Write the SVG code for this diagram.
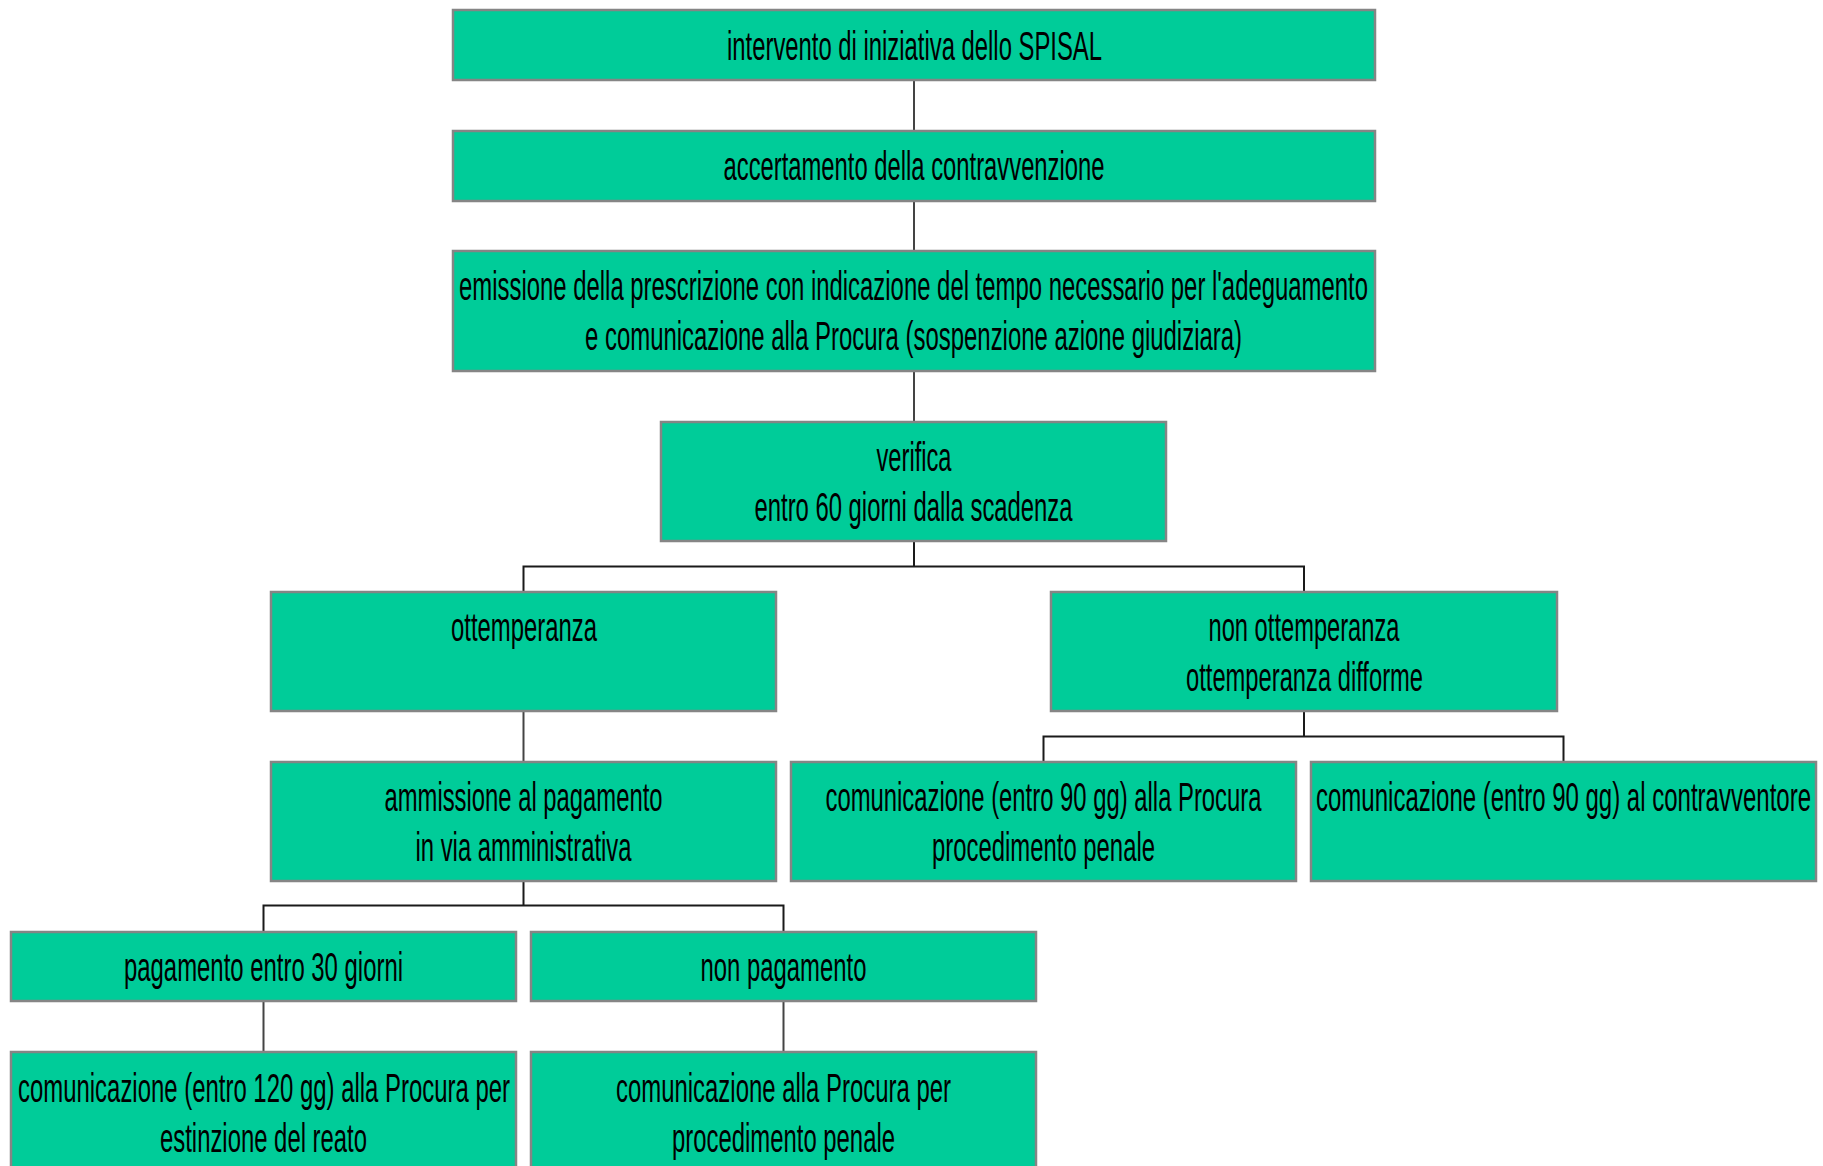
<svg xmlns="http://www.w3.org/2000/svg" width="1823" height="1166" viewBox="0 0 1823 1166">
<style>
.box{fill:#00CC99;stroke:#858585;stroke-width:2.5}
.t{font-family:"Liberation Sans",Arial,sans-serif;font-size:23.2px;fill:#000}
.c{fill:none;stroke:#1a1a1a;stroke-width:2}
.v{fill:none;stroke:#444;stroke-width:2}
</style>
<rect width="1823" height="1166" fill="#fff"/>
<g id="connectors">
<path class="v" d="M914 80V131M914 201V251M914 371V422"/>
<path class="c" d="M914 541V566.5M523.5 592V566.5H1304V592"/>
<path class="v" d="M523.5 711V762"/>
<path class="c" d="M1304 711V736.5M1043.5 762V736.5H1563.5V762"/>
<path class="c" d="M523.5 881V905.5M263.5 932V905.5H783.5V932"/>
<path class="v" d="M263.5 1001V1052M783.5 1001V1052"/>
</g>
<g id="n1"><rect class="box" x="453" y="10" width="922" height="70"/>
<text class="t" transform="translate(914.5 60) scale(1 1.724)" x="-187.5" textLength="375" lengthAdjust="spacingAndGlyphs">intervento di iniziativa dello SPISAL</text></g>
<g id="n2"><rect class="box" x="453" y="131" width="922" height="70"/>
<text class="t" transform="translate(914 180) scale(1 1.724)" x="-190.5" textLength="381" lengthAdjust="spacingAndGlyphs">accertamento della contravvenzione</text></g>
<g id="n3"><rect class="box" x="453" y="251" width="922" height="120"/>
<text class="t" transform="translate(913.5 300) scale(1 1.724)" x="-454.5" textLength="909" lengthAdjust="spacingAndGlyphs">emissione della prescrizione con indicazione del tempo necessario per l'adeguamento</text>
<text class="t" transform="translate(913.5 350) scale(1 1.724)" x="-328.5" textLength="657" lengthAdjust="spacingAndGlyphs">e comunicazione alla Procura (sospenzione azione giudiziara)</text></g>
<g id="n4"><rect class="box" x="661" y="422" width="505" height="119"/>
<text class="t" transform="translate(914 471) scale(1 1.724)" x="-37.5" textLength="75" lengthAdjust="spacingAndGlyphs">verifica</text>
<text class="t" transform="translate(913.5 521) scale(1 1.724)" x="-159" textLength="318" lengthAdjust="spacingAndGlyphs">entro 60 giorni dalla scadenza</text></g>
<g id="n5"><rect class="box" x="271" y="592" width="505" height="119"/>
<text class="t" transform="translate(524 641) scale(1 1.724)" x="-73" textLength="146" lengthAdjust="spacingAndGlyphs">ottemperanza</text></g>
<g id="n6"><rect class="box" x="1051" y="592" width="506" height="119"/>
<text class="t" transform="translate(1304 641) scale(1 1.724)" x="-95.5" textLength="191" lengthAdjust="spacingAndGlyphs">non ottemperanza</text>
<text class="t" transform="translate(1304.5 691) scale(1 1.724)" x="-118.5" textLength="237" lengthAdjust="spacingAndGlyphs">ottemperanza difforme</text></g>
<g id="n7"><rect class="box" x="271" y="762" width="505" height="119"/>
<text class="t" transform="translate(523.5 811) scale(1 1.724)" x="-139" textLength="278" lengthAdjust="spacingAndGlyphs">ammissione al pagamento</text>
<text class="t" transform="translate(523.5 861) scale(1 1.724)" x="-108" textLength="216" lengthAdjust="spacingAndGlyphs">in via amministrativa</text></g>
<g id="n8"><rect class="box" x="791" y="762" width="505" height="119"/>
<text class="t" transform="translate(1043.5 811) scale(1 1.724)" x="-218" textLength="436" lengthAdjust="spacingAndGlyphs">comunicazione (entro 90 gg) alla Procura</text>
<text class="t" transform="translate(1043.5 861) scale(1 1.724)" x="-111.5" textLength="223" lengthAdjust="spacingAndGlyphs">procedimento penale</text></g>
<g id="n9"><rect class="box" x="1311" y="762" width="505" height="119"/>
<text class="t" transform="translate(1563.5 811) scale(1 1.724)" x="-247.5" textLength="495" lengthAdjust="spacingAndGlyphs">comunicazione (entro 90 gg) al contravventore</text></g>
<g id="n10"><rect class="box" x="11" y="932" width="505" height="69"/>
<text class="t" transform="translate(263.5 981) scale(1 1.724)" x="-139.5" textLength="279" lengthAdjust="spacingAndGlyphs">pagamento entro 30 giorni</text></g>
<g id="n11"><rect class="box" x="531" y="932" width="505" height="69"/>
<text class="t" transform="translate(783.5 981) scale(1 1.724)" x="-83" textLength="166" lengthAdjust="spacingAndGlyphs">non pagamento</text></g>
<g id="n12"><rect class="box" x="11" y="1052" width="505" height="125"/>
<text class="t" transform="translate(264 1102) scale(1 1.724)" x="-246" textLength="492" lengthAdjust="spacingAndGlyphs">comunicazione (entro 120 gg) alla Procura per</text>
<text class="t" transform="translate(263.5 1152) scale(1 1.724)" x="-103.5" textLength="207" lengthAdjust="spacingAndGlyphs">estinzione del reato</text></g>
<g id="n13"><rect class="box" x="531" y="1052" width="505" height="125"/>
<text class="t" transform="translate(783.5 1102) scale(1 1.724)" x="-167.5" textLength="335" lengthAdjust="spacingAndGlyphs">comunicazione alla Procura per</text>
<text class="t" transform="translate(783.5 1152) scale(1 1.724)" x="-111.5" textLength="223" lengthAdjust="spacingAndGlyphs">procedimento penale</text></g>
</svg>
